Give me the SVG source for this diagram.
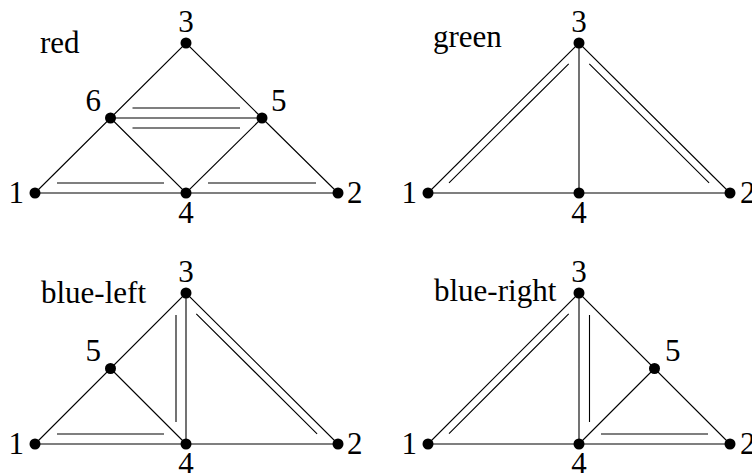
<svg xmlns="http://www.w3.org/2000/svg" width="752" height="473" viewBox="0 0 752 473">
<style>
.e{stroke:#000;stroke-width:1.1;fill:none}
.n{fill:#000}
.m{text-anchor:middle}
.r{text-anchor:end}
</style>
<rect width="752" height="473" fill="#fff"/>
<g id="connectors">
<path class="e" d="M35 193H338M35 193L186 43L338 193M110.5 118H262M110.5 118L186 193L262 118"/>
<path class="e" d="M132.5 108H240M132.5 128H240M57 183H164M208 183H316"/>
<path class="e" d="M428 193H730M428 193L579 43L730 193M579 43V193"/>
<path class="e" d="M449 182.8L568.7 63.8M589.3 63.8L709.1 182.8"/>
<path class="e" d="M35 444H338M35 444L186 293L338 444M186 293V444M110.5 368.5L186 444"/>
<path class="e" d="M176 315V422M57 434H164M196.3 313.8L317.1 433.8"/>
<path class="e" d="M428 444H730M428 444L579 293L730 444M579 293V444M654.5 368.5L579 444"/>
<path class="e" d="M449 433.7L568.7 313.9M589.5 315V422M601 434H708"/>
</g>
<g font-family="Liberation Serif, DejaVu Serif, serif" font-size="31" fill="#000">
<g id="red">
<text x="40" y="53">red</text>
<g id="red-1"><circle class="n" cx="35" cy="193" r="5.5"/><text class="r" x="24" y="203">1</text></g>
<g id="red-2"><circle class="n" cx="338" cy="193" r="5.5"/><text x="347" y="203">2</text></g>
<g id="red-3"><circle class="n" cx="186" cy="43" r="5.5"/><text class="m" x="186" y="32">3</text></g>
<g id="red-4"><circle class="n" cx="186" cy="193" r="5.5"/><text class="m" x="186" y="223">4</text></g>
<g id="red-5"><circle class="n" cx="262" cy="118" r="5.5"/><text x="271" y="111">5</text></g>
<g id="red-6"><circle class="n" cx="110.5" cy="118" r="5.5"/><text class="r" x="101" y="111">6</text></g>
</g>
<g id="green">
<text x="433" y="47">green</text>
<g id="green-1"><circle class="n" cx="428" cy="193" r="5.5"/><text class="r" x="417" y="203">1</text></g>
<g id="green-2"><circle class="n" cx="730" cy="193" r="5.5"/><text x="740" y="203">2</text></g>
<g id="green-3"><circle class="n" cx="579" cy="43" r="5.5"/><text class="m" x="579" y="32">3</text></g>
<g id="green-4"><circle class="n" cx="579" cy="193" r="5.5"/><text class="m" x="579" y="223">4</text></g>
</g>
<g id="blue-left">
<text x="41" y="303">blue-left</text>
<g id="bl-1"><circle class="n" cx="35" cy="444" r="5.5"/><text class="r" x="24" y="454">1</text></g>
<g id="bl-2"><circle class="n" cx="338" cy="444" r="5.5"/><text x="347" y="454">2</text></g>
<g id="bl-3"><circle class="n" cx="186" cy="293" r="5.5"/><text class="m" x="186" y="282">3</text></g>
<g id="bl-4"><circle class="n" cx="186" cy="444" r="5.5"/><text class="m" x="186" y="474">4</text></g>
<g id="bl-5"><circle class="n" cx="110.5" cy="368.5" r="5.5"/><text class="r" x="101" y="361">5</text></g>
</g>
<g id="blue-right">
<text x="434" y="301">blue-right</text>
<g id="br-1"><circle class="n" cx="428" cy="444" r="5.5"/><text class="r" x="417" y="454">1</text></g>
<g id="br-2"><circle class="n" cx="730" cy="444" r="5.5"/><text x="740" y="454">2</text></g>
<g id="br-3"><circle class="n" cx="579" cy="293" r="5.5"/><text class="m" x="579" y="282">3</text></g>
<g id="br-4"><circle class="n" cx="579" cy="444" r="5.5"/><text class="m" x="579" y="474">4</text></g>
<g id="br-5"><circle class="n" cx="654.5" cy="368.5" r="5.5"/><text x="665" y="361">5</text></g>
</g>
</g>
</svg>
